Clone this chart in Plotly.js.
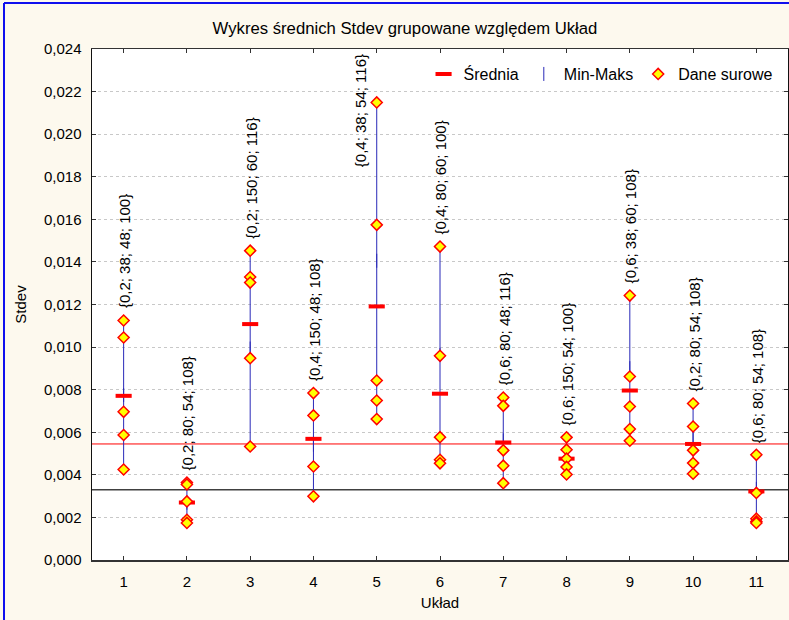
<!DOCTYPE html>
<html>
<head>
<meta charset="utf-8">
<script src="https://cdn.plot.ly/plotly-3.0.1.min.js"></script>
<style>
  html, body { margin: 0; padding: 0; background: #fdf9ee; }
  #chart { width: 789px; height: 620px; }
</style>
</head>
<body>
<div id="chart"></div>
<script>
// ---- data ----
const categories = [1, 2, 3, 4, 5, 6, 7, 8, 9, 10, 11];
const groupLabels = [
  "{0,2; 38; 48; 100}", "{0,2; 80; 54; 108}", "{0,2; 150; 60; 116}",
  "{0,4; 150; 48; 108}", "{0,4; 38; 54; 116}", "{0,4; 80; 60; 100}",
  "{0,6; 80; 48; 116}", "{0,6; 150; 54; 100}", "{0,6; 38; 60; 108}",
  "{0,2; 80; 54; 108}", "{0,6; 80; 54; 108}"
];
const means = [0.00771, 0.00270, 0.01108, 0.00569, 0.01191, 0.00781, 0.00552, 0.00476, 0.00796, 0.00545, 0.00322];
const raw1  = [0.01125, 0.01045, 0.00696, 0.00587, 0.00425];
const raw2  = [0.00364, 0.00355, 0.00275, 0.00189, 0.00174];
const raw3  = [0.01453, 0.01329, 0.01303, 0.00948, 0.00533];
const raw4  = [0.00784, 0.00679, 0.00439, 0.00299];
const raw5  = [0.02149, 0.01574, 0.00843, 0.00749, 0.00662];
const raw6  = [0.01472, 0.00959, 0.00577, 0.00471, 0.00454];
const raw7  = [0.00763, 0.00724, 0.00515, 0.00443, 0.00361];
const raw8  = [0.00576, 0.00518, 0.00476, 0.00437, 0.00402];
const raw9  = [0.01242, 0.00862, 0.00721, 0.00615, 0.00560];
const raw10 = [0.00735, 0.00627, 0.00515, 0.00455, 0.00405];
const raw11 = [0.00494, 0.00315, 0.00194, 0.00181, 0.00174];
const refLines = [0.00545, 0.00330];   // red line, dark line
const yTicks = [0, 0.002, 0.004, 0.006, 0.008, 0.010, 0.012, 0.014, 0.016, 0.018, 0.020, 0.022, 0.024];
const yTickText = ["0,000", "0,002", "0,004", "0,006", "0,008", "0,010", "0,012", "0,014", "0,016", "0,018", "0,020", "0,022", "0,024"];

const rawGroups = [raw1, raw2, raw3, raw4, raw5, raw6, raw7, raw8, raw9, raw10, raw11];

// ---- derived ----
const mins = rawGroups.map(g => Math.min(...g));
const maxs = rawGroups.map(g => Math.max(...g));
const mids = mins.map((m, i) => (m + maxs[i]) / 2);
const halfRange = mins.map((m, i) => (maxs[i] - m) / 2);
const rawX = [], rawY = [];
rawGroups.forEach((g, i) => g.forEach(v => { rawX.push(categories[i]); rawY.push(v); }));

const FONT = "Liberation Sans, Arial, sans-serif";

const traces = [
  {
    type: "scatter", mode: "markers", name: "Min-Maks",
    x: categories, y: mids, legendrank: 2,
    marker: { symbol: "line-ns-open", size: 10, color: "#2828b8", line: { color: "#2828b8", width: 1 } },
    error_y: { type: "data", symmetric: true, array: halfRange, color: "#2828b8", thickness: 1, width: 4 },
    hoverinfo: "skip"
  },
  {
    type: "scatter", mode: "markers", name: "Średnia",
    x: categories, y: means, legendrank: 1,
    marker: { symbol: "line-ew-open", size: 11.5, color: "#ff0000", line: { color: "#ff0000", width: 4 } }
  },
  {
    type: "scatter", mode: "markers", name: "Dane surowe",
    x: rawX, y: rawY, legendrank: 3,
    marker: { symbol: "diamond", size: 8.5, color: "#ffff00", line: { color: "#ff0000", width: 1.5 } }
  }
];

const annotations = categories.map((c, i) => {
  const special = (i === 4);
  return {
    x: c, y: maxs[i],
    xref: "x", yref: "y",
    text: groupLabels[i], textangle: -90, showarrow: false,
    xanchor: "center", yanchor: special ? "middle" : "bottom",
    xshift: special ? -16 : 1, yshift: special ? -8 : 10,
    font: { family: FONT, size: 15, color: "#000" }
  };
});

const shapes = [
  { type: "line", xref: "paper", x0: 0, x1: 1, yref: "y", y0: refLines[0], y1: refLines[0], line: { color: "#ff0000", width: 1 }, layer: "below" },
  { type: "line", xref: "paper", x0: 0, x1: 1, yref: "y", y0: refLines[1], y1: refLines[1], line: { color: "#404040", width: 1.3 }, layer: "below" },
  // outer blue frame (left and top edge of the picture)
  { type: "line", xref: "paper", yref: "paper", x0: -88 / 696, x1: 1.01, y0: 1 + 46 / 511, y1: 1 + 46 / 511, line: { color: "#1010ee", width: 2 } },
  { type: "line", xref: "paper", yref: "paper", x0: -88 / 696, x1: -88 / 696, y0: 1 + 46 / 511, y1: -60 / 511, line: { color: "#1010ee", width: 2 } }
];

const layout = {
  width: 789, height: 620,
  margin: { l: 92, r: 1, t: 49, b: 60, pad: 0 },
  paper_bgcolor: "#fdf9ee",
  plot_bgcolor: "#ffffff",
  font: { family: FONT, size: 15, color: "#000" },
  title: {
    text: "Wykres średnich Stdev grupowane względem Układ",
    font: { family: FONT, size: 16.7, color: "#000" },
    xref: "container", x: 405 / 789, xanchor: "center",
    yref: "container", y: 1 - 28 / 620, yanchor: "middle"
  },
  showlegend: true,
  legend: {
    orientation: "h", x: 0.985, xanchor: "right", y: 0.951, yanchor: "middle",
    bgcolor: "rgba(0,0,0,0)", font: { family: FONT, size: 16, color: "#000" },
    itemwidth: 30, traceorder: "normal"
  },
  xaxis: {
    range: [0.5, 11.5], tickmode: "array", tickvals: categories, ticktext: categories.map(String),
    ticks: "inside", ticklen: 4, tickcolor: "#333", showgrid: false, zeroline: false,
    showline: true, linecolor: "#333", linewidth: 1.5, mirror: "ticks",
    ticklabelstandoff: 7,
    tickfont: { family: FONT, size: 15, color: "#000" },
    title: { text: "Układ", font: { family: FONT, size: 15, color: "#000" }, standoff: 9 }
  },
  yaxis: {
    range: [0, 0.024], tickmode: "array", tickvals: yTicks, ticktext: yTickText,
    ticks: "inside", ticklen: 4, tickcolor: "#333",
    showgrid: true, gridcolor: "#c8c8c8", griddash: "dot", gridwidth: 1, zeroline: false,
    showline: true, linecolor: "#111", linewidth: 1.5, mirror: "ticks",
    ticklabelstandoff: 6,
    tickfont: { family: FONT, size: 15, color: "#000" },
    title: { text: "Stdev", font: { family: FONT, size: 15, color: "#000" }, standoff: 13 }
  },
  annotations: annotations,
  shapes: shapes
};

Plotly.newPlot("chart", traces, layout, { displayModeBar: false, staticPlot: true });
</script>
</body>
</html>
